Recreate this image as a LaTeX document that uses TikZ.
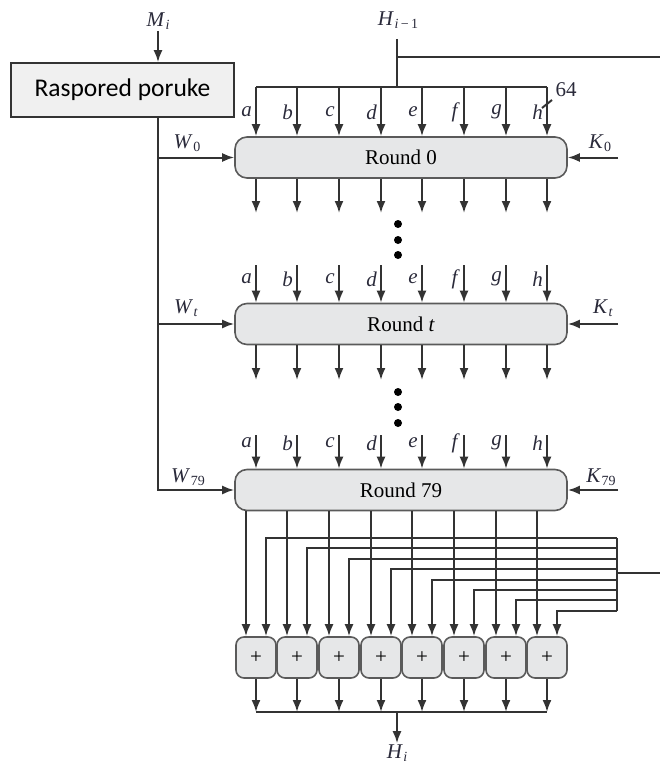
\documentclass[tikz,border=0pt]{standalone}
\usepackage{fontspec}
\setmainfont{Liberation Serif}
\newfontfamily\schedfont{Carlito}
\usetikzlibrary{arrows.meta}
\definecolor{wirecol}{HTML}{333333}
\definecolor{boxfill}{HTML}{E6E7E8}
\definecolor{schedfill}{HTML}{F0F0F0}
\definecolor{boxline}{HTML}{5A5A5A}
\definecolor{lblcol}{HTML}{2A2A3A}
% italic letter with a small subscript
\newcommand{\lab}[2]{\textit{#1}\kern0.5pt\raisebox{-0.35ex}{\fontsize{14}{16}\selectfont#2}}
\tikzset{
  wire/.style={draw=wirecol,line width=2pt},
  arr/.style={wire,-{Latex[length=12pt,width=9pt]}},
  roundbox/.style={draw=boxline,fill=boxfill,line width=1.6pt,rounded corners=12pt,
    minimum width=332pt,minimum height=41pt,inner sep=0pt,font=\fontsize{21}{24}\selectfont},
  addbox/.style={draw=boxline,fill=boxfill,line width=1.6pt,rounded corners=8pt,
    minimum width=40pt,minimum height=41pt,inner sep=0pt,font=\fontsize{21}{24}\selectfont},
  schedbox/.style={draw=wirecol,fill=schedfill,line width=1.6pt,minimum width=223pt,
    minimum height=54pt,inner sep=0pt,font=\schedfont\fontsize{25.5}{28}\selectfont},
  lbl/.style={text=lblcol,inner sep=1pt,font=\fontsize{21}{24}\selectfont}
}
\begin{document}
\begin{tikzpicture}[x=1pt,y=-1pt]
    \useasboundingbox (0,0) rectangle (660,768);
    % message schedule
    \node[lbl] (Mi) at (158,21) {\lab{M}{\textit{i}}};
    \node[schedbox] (sched) at (122.5,90) {Raspored poruke};
    \draw[arr] (Mi) -- (Mi |- sched.north);

    % the three rounds
    \node[roundbox] (r0) at (401,157.5) {Round 0};
    \node[roundbox] (rt) at (401,324) {Round \textit{t}};
    \node[roundbox] (r79) at (401,490) {Round 79};

    % W inputs
    \draw[arr] (sched.south -| Mi) |- (r79.west);
    \draw[arr] (Mi |- r0.west) -- (r0.west);
    \draw[arr] (Mi |- rt.west) -- (rt.west);
    \node[lbl] at (187,143) {\lab{W}{0}};
    \node[lbl] at (186,308) {\lab{W}{\textit{t}}};
    \node[lbl] at (188,477) {\lab{W}{79}};

    % K inputs
    \coordinate (k0) at (618,157.5);
    \coordinate (kt) at (618,324);
    \coordinate (k79) at (618,490);
    \draw[arr] (k0) -- (r0.east);
    \draw[arr] (kt) -- (rt.east);
    \draw[arr] (k79) -- (r79.east);
    \node[lbl] at (600,143) {\lab{K}{0}};
    \node[lbl] at (603,308) {\lab{K}{\textit{t}}};
    \node[lbl] at (601,477) {\lab{K}{79}};

    % chaining value in
    \node[lbl] (Hin) at (398,20) {\lab{H}{\textit{i}\,−\,1}};
    \draw[wire] (397,39) -- (397,87);
    \draw[wire] (397,57) -- (660,57);
    \draw[wire] (256,87) -- (547,87);
    \draw[wire] (542,108) -- (552,100);
    \node[lbl] at (566,90) {64};

    % a..h into every round
    \foreach \r/\top/\ly in {r0/87/112,rt/265/279,r79/435/443}{
        \foreach \i/\l in {0/a,1/b,2/c,3/d,4/e,5/f,6/g,7/h}{
            \pgfmathsetmacro\x{round(255.5+41.7*\i)}
            \draw[arr] (\x,\top) -- (\r.north -| \x,0);
            \node[lbl,anchor=east] at (\x-3,\ly) {\textit{\l}};
        }
    }

    % round outputs
    \foreach \r/\bot in {r0/213,rt/380}{
        \foreach \i in {0,...,7}{
            \pgfmathsetmacro\x{round(255.5+41.7*\i)}
            \draw[arr] (\r.south -| \x,0) -- (\x,\bot);
        }
    }

    % dots
    \foreach \y in {224,240,255,392,407,423}
        \fill[black] (398,\y) circle (4);

    % adders and feed-forward
    \coordinate (bustop) at (617,538);
    \coordinate (busbot) at (617,611);
    \draw[wire] (bustop) -- (busbot);
    \draw[wire] (617,573) -- (660,573);
    \foreach \i in {0,...,7}{
        \pgfmathsetmacro\x{round(255.5+41.7*\i)}
        \pgfmathsetmacro\xl{\x-10}
        \pgfmathsetmacro\xr{\x+10}
        \pgfmathsetmacro\yf{round(538+10.4*\i)}
        \node[addbox] (s\i) at (\x,657.5) {+};
        \draw[arr] (r79.south -| \xl,0) -- (s\i.north -| \xl,0);
        \draw[arr] (bustop |- 0,\yf) -| (s\i.north -| \xr,0);
        \draw[arr] (s\i.south) -- (\x,712);
    }

    % chaining value out
    \draw[wire] (256,712) -- (547,712);
    \node[lbl] (Hout) at (397,753) {\lab{H}{\textit{i}}};
    \draw[arr] (397,712) -- (Hout.north);
\end{tikzpicture}
\end{document}
